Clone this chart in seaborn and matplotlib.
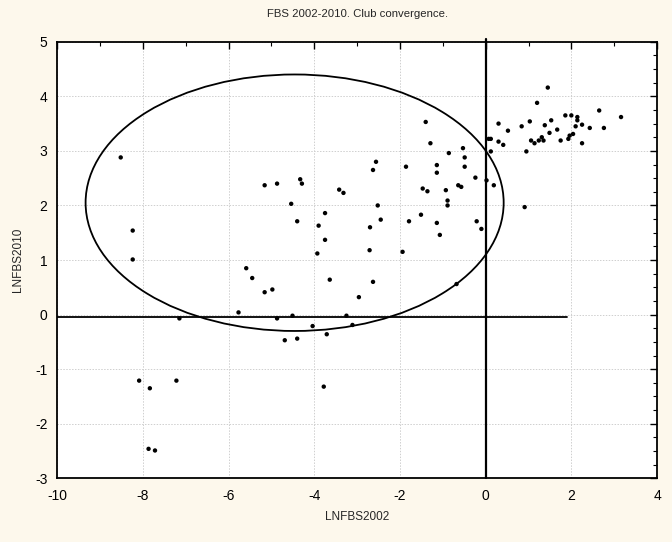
import numpy as np
import pandas as pd
import matplotlib
matplotlib.use("Agg")
import matplotlib.pyplot as plt
from matplotlib.patches import Ellipse
from matplotlib.ticker import MultipleLocator
import seaborn as sns

# values
lnfbs2002 = [
    -8.52, -8.24, -8.24, -7.15, -8.09, -7.84, -7.22, -7.87, -7.72,
    -5.77, -5.59, -5.45, -5.16, -4.98, -4.87, -4.69, -4.51, -4.40, -4.04,
    -3.78, -3.71, -3.64, -3.25, -3.11, -2.96, -2.63,
    -5.16, -4.87, -4.33, -4.29, -4.54, -4.40, -3.90, -3.75, -3.75, -3.93,
    -3.42, -3.32, -2.63, -2.56, -2.52, -2.45, -2.70, -2.71,
    -1.94, -1.86, -1.79, -1.51, -1.47, -1.36, -1.40, -1.29, -1.14, -1.14,
    -1.14, -1.07, -0.93, -0.89, -0.89, -0.86, -0.64, -0.57, -0.53, -0.49,
    -0.49, -0.24, -0.21, -0.10, -0.68, 0.02, 0.19,
    0.07, 0.12, 0.12, 0.30, 0.30, 0.41, 0.52, 0.84, 0.91, 0.95, 1.03,
    1.06, 1.14, 1.20, 1.24, 1.31, 1.35, 1.38, 1.45, 1.49, 1.53, 1.67,
    1.75, 1.86, 1.93, 1.96, 2.00, 2.04, 2.10, 2.14, 2.14, 2.25, 2.25,
    2.43, 2.65, 2.76, 3.16,
]
lnfbs2010 = [
    2.88, 1.54, 1.01, -0.07, -1.21, -1.35, -1.21, -2.46, -2.49,
    0.04, 0.85, 0.67, 0.41, 0.46, -0.07, -0.47, -0.02, -0.44, -0.21,
    -1.32, -0.36, 0.64, -0.02, -0.19, 0.32, 0.60,
    2.37, 2.40, 2.48, 2.40, 2.03, 1.71, 1.63, 1.86, 1.37, 1.12,
    2.29, 2.23, 2.65, 2.80, 2.00, 1.74, 1.60, 1.18,
    1.15, 2.71, 1.71, 1.83, 2.31, 2.26, 3.53, 3.14, 2.74, 2.60,
    1.68, 1.46, 2.28, 2.09, 2.00, 2.96, 2.37, 2.34, 3.05, 2.88,
    2.71, 2.51, 1.71, 1.57, 0.56, 2.46, 2.37,
    3.22, 3.22, 2.99, 3.50, 3.17, 3.11, 3.37, 3.45, 1.97, 2.99, 3.54,
    3.19, 3.14, 3.88, 3.19, 3.25, 3.19, 3.47, 4.16, 3.33, 3.56, 3.39,
    3.19, 3.65, 3.22, 3.28, 3.65, 3.31, 3.45, 3.62, 3.56, 3.48, 3.14,
    3.42, 3.74, 3.42, 3.62,
]

# club ellipse and the two reference lines
club_center = (-4.46, 2.05)
club_width = 9.76
club_height = 4.70
hline_y = -0.035
hline_x = (-10, 1.9)
vline_x = 0.0
vline_y = (-3, 5.05)

df = pd.DataFrame({"LNFBS2002": lnfbs2002, "LNFBS2010": lnfbs2010})

sns.set_style("white")
plt.rcParams["font.family"] = ["Liberation Sans", "DejaVu Sans"]
plt.rcParams["axes.unicode_minus"] = False

bg = "#fdf8ec"
fig = plt.figure(figsize=(6.72, 5.42), dpi=100, facecolor=bg)
ax = fig.add_axes([0.0853, 0.1175, 0.8924, 0.8055])
ax.set_facecolor("white")

sns.scatterplot(data=df, x="LNFBS2002", y="LNFBS2010", ax=ax,
                color="black", s=10, edgecolor="none", zorder=3)

ax.add_patch(Ellipse(club_center, club_width, club_height, fill=False,
                     edgecolor="black", linewidth=1.3, zorder=2))
ax.plot(hline_x, [hline_y, hline_y], color="black", linewidth=1.3, zorder=2)
ax.plot([vline_x, vline_x], vline_y, color="black", linewidth=1.6, zorder=2,
        clip_on=False)

ax.set_xlim(-10, 4)
ax.set_ylim(-3, 5)
ax.xaxis.set_major_locator(MultipleLocator(2))
ax.xaxis.set_minor_locator(MultipleLocator(1))
ax.yaxis.set_major_locator(MultipleLocator(1))
ax.yaxis.set_minor_locator(MultipleLocator(0.25))
ax.tick_params(which="both", direction="in", top=True, right=True,
               labelsize=10, colors="black")
ax.tick_params(which="major", length=5, width=1)
ax.tick_params(which="minor", length=3, width=0.8)
ax.tick_params(axis="x", which="major", pad=7.5)
ax.tick_params(axis="y", which="major", pad=7)
ax.grid(True, which="major", color="#cfcfcf", linestyle=(0, (1.5, 1.5)),
        linewidth=0.7, zorder=0)
ax.set_axisbelow(True)
for sp in ax.spines.values():
    sp.set_color("black")
    sp.set_linewidth(1.3)

ax.set_xlabel("LNFBS2002", fontsize=8.5, labelpad=6)
ax.set_ylabel("LNFBS2010", fontsize=8.5, labelpad=8)
ax.set_title("FBS 2002-2010. Club convergence.", fontsize=8.2, pad=18)

fig.savefig("out.png", dpi=100, facecolor=bg)
